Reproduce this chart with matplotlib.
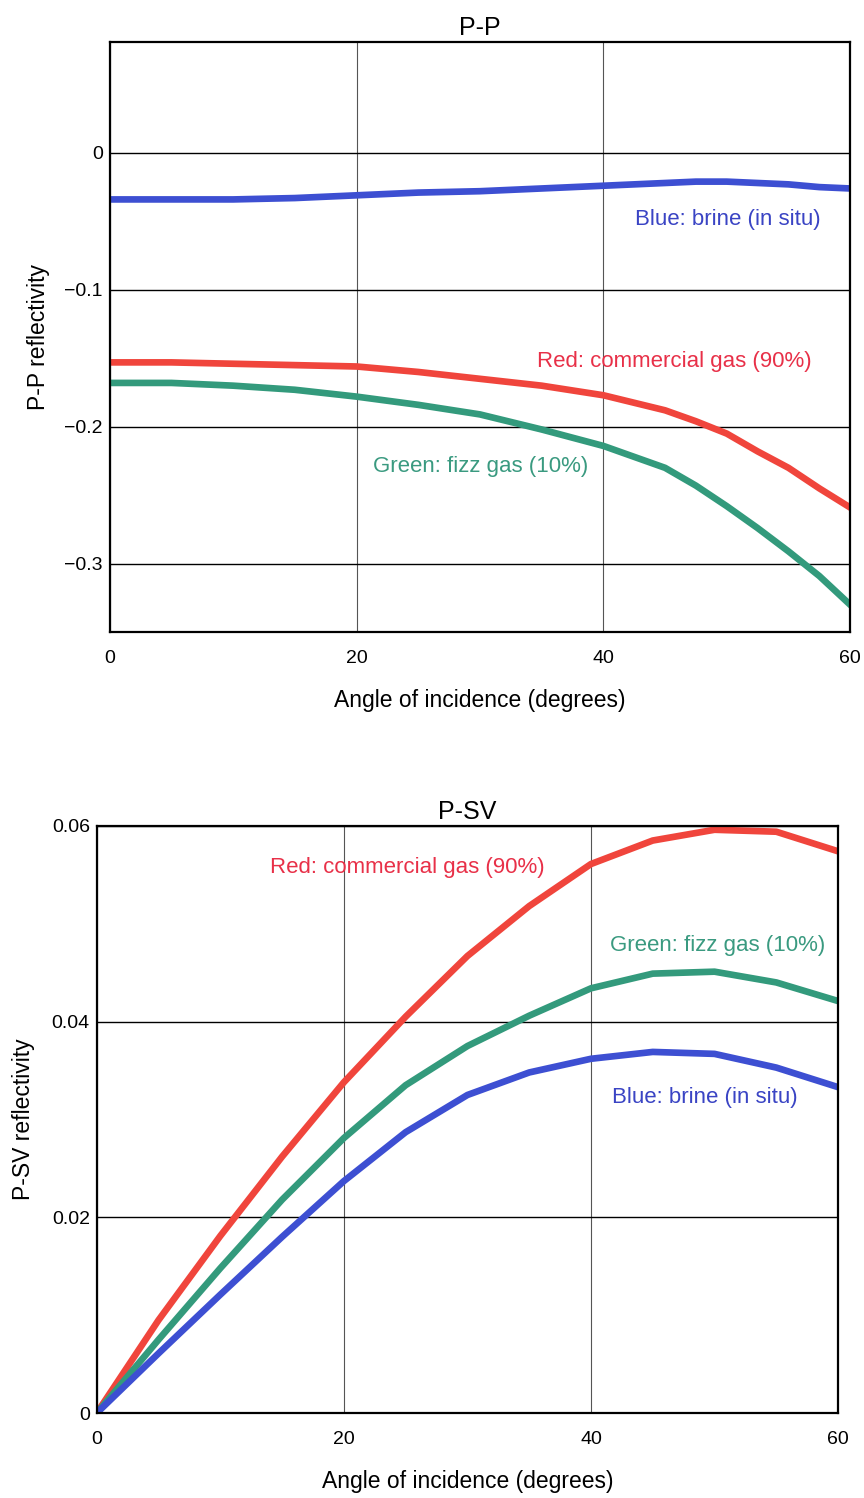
import matplotlib
matplotlib.use("Agg")
import matplotlib.pyplot as plt

plt.rcParams['font.family'] = ['Liberation Sans', 'DejaVu Sans']

# angle of incidence (degrees)
pp_angles = [0, 5, 10, 15, 20, 25, 30, 35, 40, 45, 47.5, 50, 52.5, 55, 57.5, 60]
psv_angles = [0, 5, 10, 15, 20, 25, 30, 35, 40, 45, 50, 55, 60]

# P-P reflectivity
pp_brine = [-0.034, -0.034, -0.034, -0.033, -0.031, -0.029, -0.028, -0.026, -0.024, -0.022,
            -0.021, -0.021, -0.022, -0.023, -0.025, -0.026]
pp_commercial = [-0.153, -0.153, -0.154, -0.155, -0.156, -0.160, -0.165, -0.170, -0.177, -0.188,
                 -0.196, -0.205, -0.218, -0.230, -0.245, -0.259]
pp_fizz = [-0.168, -0.168, -0.170, -0.173, -0.178, -0.184, -0.191, -0.202, -0.214, -0.230,
           -0.243, -0.258, -0.274, -0.291, -0.309, -0.330]

# P-SV reflectivity
psv_brine = [0.0, 0.0061, 0.0121, 0.0180, 0.0237, 0.0287, 0.0325, 0.0348, 0.0362, 0.0369, 0.0367, 0.0353, 0.0333]
psv_commercial = [0.0, 0.0095, 0.0181, 0.0262, 0.0338, 0.0405, 0.0467, 0.0518, 0.0561, 0.0585, 0.0596, 0.0594, 0.0574]
psv_fizz = [0.0, 0.0075, 0.0148, 0.0218, 0.0281, 0.0335, 0.0375, 0.0406, 0.0434, 0.0449, 0.0451, 0.0440, 0.0421]

x_ticks = [0, 20, 40, 60]
x_tick_labels = ['0', '20', '40', '60']
pp_yticks = [0, -0.1, -0.2, -0.3]
pp_ytick_labels = ['0', '\u22120.1', '\u22120.2', '\u22120.3']
psv_yticks = [0, 0.02, 0.04, 0.06]
psv_ytick_labels = ['0', '0.02', '0.04', '0.06']

BLUE = '#3d4fd2'
RED = '#f0453c'
GREEN = '#339a7c'
BLUE_TXT = '#3a44c4'
RED_TXT = '#e83048'
GREEN_TXT = '#3a9a80'
LW = 4.8

fig = plt.figure(figsize=(8.64, 14.98), dpi=100)
ax1 = fig.add_axes([0.127, 0.578, 0.857, 0.394])
ax2 = fig.add_axes([0.112, 0.0567, 0.858, 0.392])


def style_axes(ax, yticks, ylabels, ylim, title, ylabel, ylabelpad):
    ax.set_xlim(0, 60)
    ax.set_ylim(*ylim)
    ax.set_xticks(x_ticks, x_tick_labels)
    ax.set_yticks(yticks, ylabels)
    ax.tick_params(axis='both', length=0, labelsize=14)
    ax.tick_params(axis='x', pad=13)
    ax.tick_params(axis='y', pad=5)
    ax.grid(True, axis='y', color='black', lw=1.0)
    ax.grid(True, axis='x', color='#555555', lw=0.8)
    ax.set_axisbelow(True)
    for s in ax.spines.values():
        s.set_color('black')
        s.set_linewidth(1.6)
    ax.set_title(title, fontsize=18, pad=5)
    ax.set_xlabel('Angle of incidence (degrees)', fontsize=16.5, labelpad=16)
    ax.set_ylabel(ylabel, fontsize=16.5, labelpad=ylabelpad)


# P-P panel
ax1.plot(pp_angles, pp_brine, color=BLUE, lw=LW)
ax1.plot(pp_angles, pp_commercial, color=RED, lw=LW)
ax1.plot(pp_angles, pp_fizz, color=GREEN, lw=LW)
style_axes(ax1, pp_yticks, pp_ytick_labels, (-0.35, 0.081), 'P-P', 'P-P reflectivity', 10)
ax1.text(42.6, -0.049, 'Blue: brine (in situ)', color=BLUE_TXT, fontsize=16, va='center')
ax1.text(34.6, -0.152, 'Red: commercial gas (90%)', color=RED_TXT, fontsize=16, va='center')
ax1.text(21.3, -0.229, 'Green: fizz gas (10%)', color=GREEN_TXT, fontsize=16, va='center')

# P-SV panel
ax2.plot(psv_angles, psv_commercial, color=RED, lw=LW)
ax2.plot(psv_angles, psv_fizz, color=GREEN, lw=LW)
ax2.plot(psv_angles, psv_brine, color=BLUE, lw=LW)
style_axes(ax2, psv_yticks, psv_ytick_labels, (0, 0.06), 'P-SV', 'P-SV reflectivity', 12)
ax2.text(14.0, 0.0557, 'Red: commercial gas (90%)', color=RED_TXT, fontsize=16, va='center')
ax2.text(41.5, 0.0478, 'Green: fizz gas (10%)', color=GREEN_TXT, fontsize=16, va='center')
ax2.text(41.7, 0.0322, 'Blue: brine (in situ)', color=BLUE_TXT, fontsize=16, va='center')

fig.savefig('out.png', dpi=100)
